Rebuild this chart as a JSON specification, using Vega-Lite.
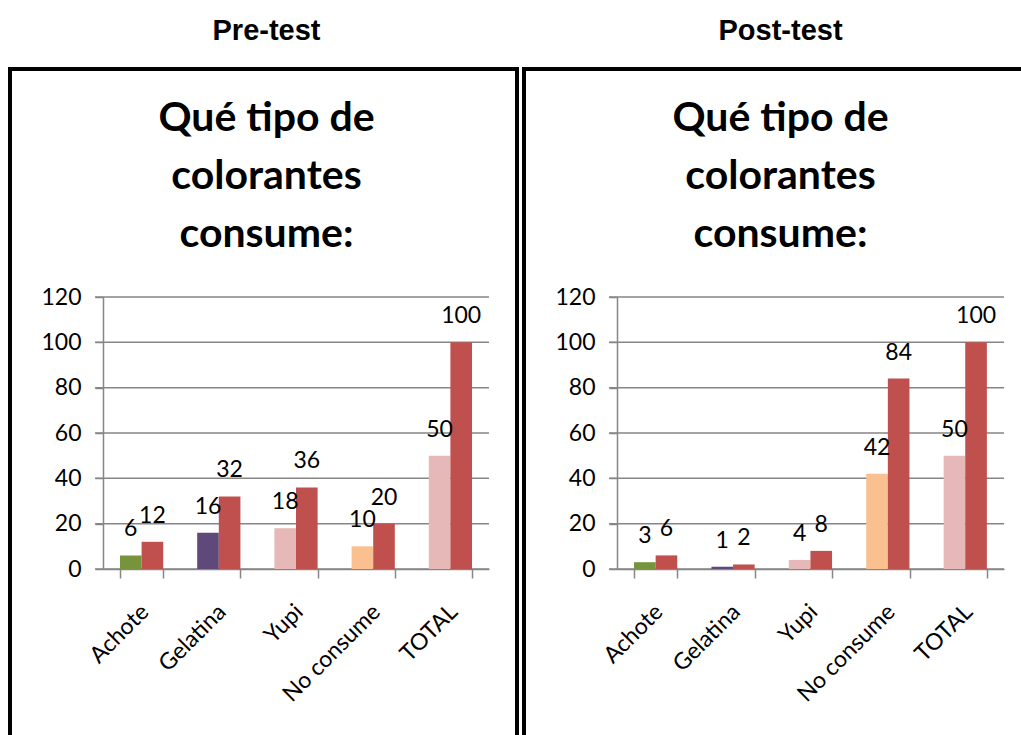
{
  "$schema": "https://vega.github.io/schema/vega-lite/v6.json",
  "background": "white",
  "padding": {"left": 0, "top": 15, "right": 0, "bottom": 0},
  "spacing": 7,
  "bounds": "flush",
  "datasets": {
    "respuestas": [
      {"test": "Pre-test", "cat": "Achote", "serie": "n", "value": 6},
      {"test": "Pre-test", "cat": "Achote", "serie": "pct", "value": 12},
      {"test": "Pre-test", "cat": "Gelatina", "serie": "n", "value": 16},
      {"test": "Pre-test", "cat": "Gelatina", "serie": "pct", "value": 32},
      {"test": "Pre-test", "cat": "Yupi", "serie": "n", "value": 18},
      {"test": "Pre-test", "cat": "Yupi", "serie": "pct", "value": 36},
      {"test": "Pre-test", "cat": "No consume", "serie": "n", "value": 10},
      {"test": "Pre-test", "cat": "No consume", "serie": "pct", "value": 20},
      {"test": "Pre-test", "cat": "TOTAL", "serie": "n", "value": 50},
      {"test": "Pre-test", "cat": "TOTAL", "serie": "pct", "value": 100},
      {"test": "Post-test", "cat": "Achote", "serie": "n", "value": 3},
      {"test": "Post-test", "cat": "Achote", "serie": "pct", "value": 6},
      {"test": "Post-test", "cat": "Gelatina", "serie": "n", "value": 1},
      {"test": "Post-test", "cat": "Gelatina", "serie": "pct", "value": 2},
      {"test": "Post-test", "cat": "Yupi", "serie": "n", "value": 4},
      {"test": "Post-test", "cat": "Yupi", "serie": "pct", "value": 8},
      {"test": "Post-test", "cat": "No consume", "serie": "n", "value": 42},
      {"test": "Post-test", "cat": "No consume", "serie": "pct", "value": 84},
      {"test": "Post-test", "cat": "TOTAL", "serie": "n", "value": 50},
      {"test": "Post-test", "cat": "TOTAL", "serie": "pct", "value": 100}
    ],
    "rejilla": [{"tick": 0}, {"tick": 20}, {"tick": 40}, {"tick": 60}, {"tick": 80}, {"tick": 100}, {"tick": 120}]
  },
  "hconcat": [
    {
      "title": {"text": "Pre-test", "subtitle": ["Qué tipo de", "colorantes", "consume:"], "dx": 3},
      "width": 507,
      "height": 690,
      "layer": [
        {
          "data": {"name": "rejilla"},
          "mark": {"type": "rule", "color": "#868686", "strokeWidth": 1.5},
          "encoding": {
            "y": {"field": "tick", "type": "quantitative", "scale": {"domain": [0, 120], "range": [500, 228], "nice": false},
                  "axis": {"orient": "left", "offset": -93, "values": [0, 20, 40, 60, 80, 100, 120], "grid": false,
                           "tickSize": 8, "labelPadding": 14}},
            "x": {"datum": 0, "type": "quantitative", "scale": {"domain": [0, 1], "range": [85, 479]}, "axis": null},
            "x2": {"datum": 1}
          }
        },
        {
          "data": {"name": "respuestas"},
          "transform": [{"filter": "datum.test === 'Pre-test'"}],
          "encoding": {
            "x": {"field": "cat", "type": "nominal", "sort": ["Achote", "Gelatina", "Yupi", "No consume", "TOTAL"],
                  "scale": {"range": [93, 479], "paddingInner": 0.44, "paddingOuter": 0.22}},
            "xOffset": {"field": "serie", "type": "nominal", "sort": ["n", "pct"]},
            "y": {"field": "value", "type": "quantitative"}
          },
          "layer": [
            {
              "mark": {"type": "bar"},
              "encoding": {
                "color": {
                  "condition": {"test": "datum.serie === 'pct'", "value": "#C0504D"},
                  "field": "cat", "type": "nominal", "legend": null,
                  "scale": {"domain": ["Achote", "Gelatina", "Yupi", "No consume", "TOTAL"],
                            "range": ["#77933C", "#5F497A", "#E6B9B8", "#FAC090", "#E6B9B8"]}
                }
              }
            },
            {
              "mark": {"type": "text", "font": "Lato", "fontSize": 23, "color": "black", "baseline": "middle", "dy": -26},
              "encoding": {"text": {"field": "value", "type": "quantitative"}}
            }
          ]
        }
      ],
      "resolve": {"scale": {"x": "independent"}, "axis": {"x": "independent"}}
    },
    {
      "title": {"text": "Post-test", "subtitle": ["Qué tipo de", "colorantes", "consume:"], "dx": 3},
      "width": 507,
      "height": 690,
      "layer": [
        {
          "data": {"name": "rejilla"},
          "mark": {"type": "rule", "color": "#868686", "strokeWidth": 1.5},
          "encoding": {
            "y": {"field": "tick", "type": "quantitative", "scale": {"domain": [0, 120], "range": [500, 228], "nice": false},
                  "axis": {"orient": "left", "offset": -93, "values": [0, 20, 40, 60, 80, 100, 120], "grid": false,
                           "tickSize": 8, "labelPadding": 14}},
            "x": {"datum": 0, "type": "quantitative", "scale": {"domain": [0, 1], "range": [85, 480]}, "axis": null},
            "x2": {"datum": 1}
          }
        },
        {
          "data": {"name": "respuestas"},
          "transform": [{"filter": "datum.test === 'Post-test'"}],
          "encoding": {
            "x": {"field": "cat", "type": "nominal", "sort": ["Achote", "Gelatina", "Yupi", "No consume", "TOTAL"],
                  "scale": {"range": [93, 480], "paddingInner": 0.44, "paddingOuter": 0.22}},
            "xOffset": {"field": "serie", "type": "nominal", "sort": ["n", "pct"]},
            "y": {"field": "value", "type": "quantitative"}
          },
          "layer": [
            {
              "mark": {"type": "bar"},
              "encoding": {
                "color": {
                  "condition": {"test": "datum.serie === 'pct'", "value": "#C0504D"},
                  "field": "cat", "type": "nominal", "legend": null,
                  "scale": {"domain": ["Achote", "Gelatina", "Yupi", "No consume", "TOTAL"],
                            "range": ["#77933C", "#5F497A", "#E6B9B8", "#FAC090", "#E6B9B8"]}
                }
              }
            },
            {
              "mark": {"type": "text", "font": "Lato", "fontSize": 23, "color": "black", "baseline": "middle", "dy": -26},
              "encoding": {"text": {"field": "value", "type": "quantitative"}}
            }
          ]
        }
      ],
      "resolve": {"scale": {"x": "independent"}, "axis": {"x": "independent"}}
    }
  ],
  "config": {
    "view": {"stroke": "black", "strokeWidth": 4},
    "title": {
      "font": "Liberation Sans", "fontSize": 29, "fontWeight": "bold", "color": "black",
      "subtitleFont": "Lato", "subtitleFontSize": 41, "subtitleFontWeight": "bold", "subtitleColor": "black",
      "subtitleLineHeight": 58, "subtitlePadding": 53, "offset": -186, "anchor": "middle"
    },
    "axis": {
      "labelFont": "Lato", "labelFontSize": 23, "labelColor": "black",
      "domainColor": "#868686", "domainWidth": 1.5, "tickColor": "#868686", "tickWidth": 1.5,
      "gridColor": "#868686", "gridWidth": 1.5, "title": null
    },
    "axisX": {
      "offset": -190, "tickBand": "extent", "tickSize": 9, "grid": false,
      "labelAngle": -45, "labelAlign": "right", "labelBaseline": "middle",
      "labelPadding": 30, "labelOffset": 3
    }
  }
}
